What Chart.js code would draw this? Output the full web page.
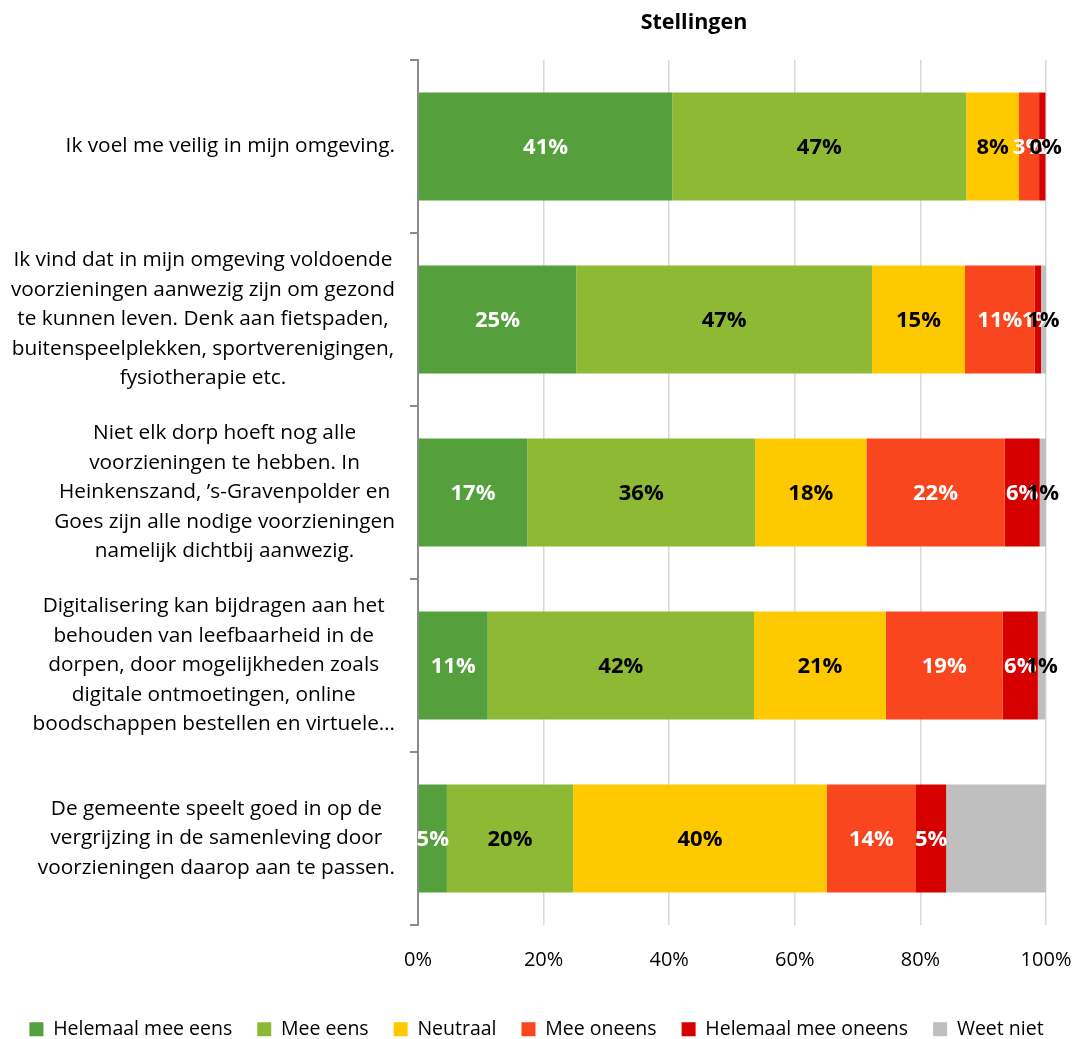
<!DOCTYPE html>
<html>
<head>
<meta charset="utf-8">
<script src="https://cdn.jsdelivr.net/npm/chart.js@4.4.1/dist/chart.umd.min.js"></script>
<style>
  html, body { margin: 0; padding: 0; background: #fff; }
  #wrap { width: 1073px; height: 1039px; }
</style>
</head>
<body>
<div id="wrap"><canvas id="stellingenChart"></canvas></div>
<script>
const FONT = '"Open Sans"';

const stellingen = [
  ['Ik voel me veilig in mijn omgeving.'],
  ['Ik vind dat in mijn omgeving voldoende', 'voorzieningen aanwezig zijn om gezond', 'te kunnen leven. Denk aan fietspaden,', 'buitenspeelplekken, sportverenigingen,', 'fysiotherapie etc.'],
  ['Niet elk dorp hoeft nog alle', 'voorzieningen te hebben. In', 'Heinkenszand, ’s-Gravenpolder en', 'Goes zijn alle nodige voorzieningen', 'namelijk dichtbij aanwezig.'],
  ['Digitalisering kan bijdragen aan het', 'behouden van leefbaarheid in de', 'dorpen, door mogelijkheden zoals', 'digitale ontmoetingen, online', 'boodschappen bestellen en virtuele…'],
  ['De gemeente speelt goed in op de', 'vergrijzing in de samenleving door', 'voorzieningen daarop aan te passen.']
];

// percentages per stelling
const helemaalMeeEens   = [40.5, 25.2, 17.4, 11.1, 4.6];
const meeEens           = [46.8, 47.1, 36.3, 42.4, 20.1];
const neutraal          = [8.4, 14.8, 17.7, 21.0, 40.4];
const meeOneens         = [3.2, 11.1, 22.0, 18.6, 14.2];
const helemaalMeeOneens = [1.0, 1.0, 5.6, 5.6, 4.8];
const weetNiet          = [0.1, 0.8, 1.0, 1.2, 15.9];

const xTicks = [0, 20, 40, 60, 80, 100];
const titel = 'Stellingen';

// labels die in het origineel niet getoond worden (dataset -> index)
const zonderLabel = { 'Weet niet': [4] };

const series = [
  { label: 'Helemaal mee eens', data: helemaalMeeEens, color: '#55A03C', tekst: '#fff' },
  { label: 'Mee eens', data: meeEens, color: '#8DB935', tekst: '#000' },
  { label: 'Neutraal', data: neutraal, color: '#FFC900', tekst: '#000' },
  { label: 'Mee oneens', data: meeOneens, color: '#F9461E', tekst: '#fff' },
  { label: 'Helemaal mee oneens', data: helemaalMeeOneens, color: '#D70000', tekst: '#fff' },
  { label: 'Weet niet', data: weetNiet, color: '#BFBFBF', tekst: '#000' }
];

const labelPlugin = {
  id: 'labels',
  afterDatasetsDraw(chart) {
    const ctx = chart.ctx;
    ctx.save();
    ctx.font = `bold 22px ${FONT}`;
    ctx.textAlign = 'center';
    ctx.textBaseline = 'middle';
    chart.data.datasets.forEach((ds, i) => {
      const meta = chart.getDatasetMeta(i);
      const skip = zonderLabel[ds.label] || [];
      meta.data.forEach((el, j) => {
        if (skip.includes(j)) return;
        const p = el.getCenterPoint();
        ctx.fillStyle = ds.tekst;
        ctx.fillText(Math.round(ds.data[j]) + '%', p.x, p.y + 1);
      });
    });
    ctx.restore();
  },
  afterDraw(chart) {
    const ctx = chart.ctx;
    const y = chart.scales.y;
    ctx.save();
    // titel
    ctx.font = `bold 21.5px ${FONT}`;
    ctx.fillStyle = '#000';
    ctx.textAlign = 'center';
    ctx.textBaseline = 'middle';
    ctx.fillText(titel, 694, 23);
    // categorie labels, per blok gecentreerd
    ctx.font = `20.8px ${FONT}`;
    const lh = 29.5;
    stellingen.forEach((lines, i) => {
      const cy = y.getPixelForValue(i);
      const w = Math.max(...lines.map(l => ctx.measureText(l).width));
      const cx = 395 - w / 2;
      const top = cy - (lines.length - 1) * lh / 2;
      lines.forEach((l, k) => ctx.fillText(l, cx, top + k * lh));
    });
    ctx.restore();
  }
};

new Chart(document.getElementById('stellingenChart'), {
  type: 'bar',
  data: {
    labels: stellingen,
    datasets: series.map(s => ({
      label: s.label,
      data: s.data,
      backgroundColor: s.color,
      tekst: s.tekst,
      borderWidth: 0,
      barPercentage: 0.624,
      categoryPercentage: 1
    }))
  },
  options: {
    indexAxis: 'y',
    responsive: true,
    maintainAspectRatio: false,
    animation: false,
    layout: { padding: { top: 60, right: 0, left: 0, bottom: -10 } },
    scales: {
      x: {
        stacked: true,
        min: 0,
        max: 100,
        afterBuildTicks: s => { s.ticks = xTicks.map(v => ({ value: v })); },
        afterFit: s => { s.height = 69.5; s.paddingRight = 27; s.paddingLeft = 0; },
        ticks: { callback: v => v + '%', color: '#000', font: { family: FONT, size: 20 }, padding: 23 },
        grid: { color: '#d9d9d9', lineWidth: 1.5, drawTicks: false },
        border: { display: false }
      },
      y: {
        stacked: true,
        afterFit: s => { s.width = 418; },
        ticks: { display: false },
        grid: { drawOnChartArea: false, offset: true, tickLength: 8, color: '#8c8c8c', lineWidth: 2 },
        border: { color: '#8c8c8c', width: 2 }
      }
    },
    plugins: {
      legend: {
        position: 'bottom',
        labels: {
          boxWidth: 14,
          boxHeight: 14,
          padding: 25,
          color: '#000',
          font: { family: FONT, size: 19.5 }
        }
      },
      tooltip: { enabled: false }
    }
  },
  plugins: [labelPlugin]
});
</script>
</body>
</html>
